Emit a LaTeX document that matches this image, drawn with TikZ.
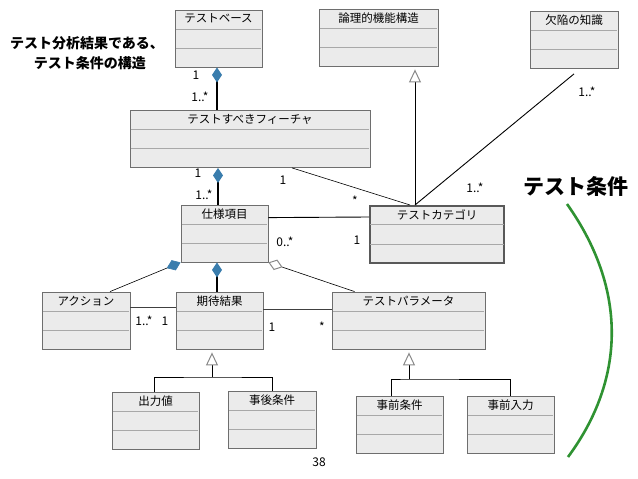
\documentclass[tikz,border=0pt]{standalone}
\usepackage{fontspec}
\setmainfont{Noto Sans CJK JP}
\usetikzlibrary{arrows.meta,calc}

\definecolor{boxfill}{HTML}{EBEBEB}
\definecolor{boxline}{HTML}{6E6E6E}
\definecolor{divline}{HTML}{A8A8A8}
\definecolor{diablue}{HTML}{3A7DAD}
\definecolor{trigray}{HTML}{8A8A8A}
\definecolor{arcgreen}{HTML}{2F9232}

\begin{document}
\begin{tikzpicture}[
    x=1pt, y=-1pt,
    cls/.style={draw=boxline, fill=boxfill, line width=0.8pt, inner xsep=2pt,
        inner ysep=0pt, text height=13pt, text depth=44pt, minimum height=57pt,
        font=\fontsize{11.5}{13}\selectfont},
    keycls/.style={cls, draw=black!65, line width=2pt},
    divider/.style={draw=divline, line width=0.6pt, shorten <=1pt, shorten >=1pt},
    comp/.style={line width=1.1pt, {Diamond[fill=diablue, color=diablue, length=15pt, width=10pt]}-},
    compthin/.style={line width=0.6pt, {Diamond[fill=diablue, color=diablue, length=15pt, width=11pt]}-},
    aggr/.style={line width=0.6pt, {Diamond[fill=white, color=trigray, length=15pt, width=11pt, line width=1pt]}-},
    gen/.style={line width=0.9pt, shorten >=3pt,
        -{Triangle[fill=white, color=trigray, length=13pt, width=12pt, line width=1pt]}},
    tree/.style={line width=0.9pt},
    assoc/.style={line width=0.6pt},
    link/.style={line width=1.2pt, draw=black!75},
    mult/.style={font=\fontsize{12}{14}\selectfont, inner sep=0pt},
    heading/.style={font=\bfseries\fontsize{14}{16}\selectfont, inner sep=0pt},
    bighead/.style={font=\bfseries\fontsize{21}{24}\selectfont, inner sep=0pt},
    bracket/.style={draw=arcgreen, line width=2.6pt}
]
\useasboundingbox (0,0) rectangle (638,479);

% -------------------------------------------------
% Заголовок слева
% -------------------------------------------------
\node[heading] (heading1) at (87,43) {テスト分析結果である、};
\node[heading] (heading2) at (90,63) {テスト条件の構造};

% -------------------------------------------------
% Классы верхнего ряда
% -------------------------------------------------
\node[cls, minimum width=87pt]  (base)    at (218.5,38.5) {テストベース};
\node[cls, minimum width=119pt] (logic)   at (378.5,37.5) {論理的機能構造};
\node[cls, minimum width=88pt]  (defect)  at (574,40)     {欠陥の知識};
\node[cls, minimum width=240pt] (feature) at (250,139)    {テストすべきフィーチャ};

% -------------------------------------------------
% Средний ряд
% -------------------------------------------------
\node[cls, minimum width=87pt]     (spec) at (224.5,233.5) {仕様項目};
\node[keycls, minimum width=134pt] (cat)  at (437,234.5)   {テストカテゴリ};

\node[cls, minimum width=88pt]  (action) at (86,320.5)    {アクション};
\node[cls, minimum width=87pt]  (expect) at (219.5,320.5) {期待結果};
\node[cls, minimum width=153pt] (param)  at (408.5,320.5) {テストパラメータ};

% -------------------------------------------------
% Нижний ряд
% -------------------------------------------------
\node[cls, minimum width=87pt] (output)   at (155.5,420.5) {出力値};
\node[cls, minimum width=88pt] (post)     at (272,419.5)   {事後条件};
\node[cls, minimum width=87pt] (pre)      at (399.5,424.5) {事前条件};
\node[cls, minimum width=87pt] (preinput) at (510.5,424.5) {事前入力};

% Разделители отделений
\foreach \n in {base,logic,defect,feature,spec,cat,action,expect,param,output,post,pre,preinput}{
  \draw[divider] ($(\n.north west)!1/3!(\n.south west)$) -- ($(\n.north east)!1/3!(\n.south east)$);
  \draw[divider] ($(\n.north west)!2/3!(\n.south west)$) -- ($(\n.north east)!2/3!(\n.south east)$);
}

% -------------------------------------------------
% Композиции
% -------------------------------------------------
\draw[comp] ([xshift=-1.5pt]base.south) -- ([xshift=-1.5pt]base.south |- feature.north);
\draw[comp] ([xshift=-6.5pt]spec.north |- feature.south) -- ([xshift=-6.5pt]spec.north);
\draw[comp] ([xshift=-2.5pt]expect.north |- spec.south) -- ([xshift=-2.5pt]expect.north);
\draw[compthin] (spec.south west) -- ([xshift=24pt]action.north);
\draw[aggr] (spec.south east) -- ([xshift=23pt]param.north west);

% -------------------------------------------------
% Ассоциации
% -------------------------------------------------
\draw[assoc] ([xshift=42pt]feature.south) -- ([xshift=-27pt]cat.north);
\draw[assoc, line width=0.9pt] ($(spec.north east)+(0,13)$) -- ($(cat.north west)+(0,12)$);
\draw[assoc, line width=0.9pt] ([yshift=-5pt]defect.south) -- ([xshift=-22pt]cat.north);
\draw[link] ($(action.north east)+(0,16)$) -- ($(expect.north west)+(0,16)$);
\draw[link] ($(expect.north east)+(0,18)$) -- ($(param.north west)+(0,18)$);

% -------------------------------------------------
% Обобщения
% -------------------------------------------------
\draw[gen] ([xshift=-22pt]cat.north) -- ([xshift=-22pt]cat.north |- logic.south);

\coordinate (joinA) at (212,377);
\draw[tree] ([xshift=-1.5pt]output.north) |- (joinA) -| (post.north);
\draw[gen] (joinA) -- (joinA |- expect.south);

\coordinate (joinB) at (409,379);
\draw[tree] ([xshift=-8.5pt]pre.north) |- (joinB) -| (preinput.north);
\draw[gen] (joinB) -- (joinB |- param.south);

% -------------------------------------------------
% Кратности
% -------------------------------------------------
\node[mult] (mBase)    at (196,75)  {1};
\node[mult] (mFeatA)   at (200,97)  {1..*};
\node[mult] (mFeatB)   at (198,173) {1};
\node[mult] (mSpec)    at (204,195) {1..*};
\node[mult] (mFeatC)   at (283,180) {1};
\node[mult] (mCatA)    at (355,201) {*};
\node[mult] (mCatB)    at (475,188) {1..*};
\node[mult] (mDefect)  at (587,92)  {1..*};
\node[mult] (mSpecB)   at (285,242) {0..*};
\node[mult] (mCatC)    at (357,240) {1};
\node[mult] (mAction)  at (144,321) {1..*};
\node[mult] (mExpA)    at (165,321) {1};
\node[mult] (mExpB)    at (272,327) {1};
\node[mult] (mParam)   at (322,327) {*};

% -------------------------------------------------
% Подпись справа и дуга
% -------------------------------------------------
\node[bighead] (condition) at (576,186) {テスト条件};
\coordinate (arcTop) at (567,204);
\coordinate (arcBot) at (568,457);
\draw[bracket] (arcTop) .. controls (628,290) and (625,380) .. (arcBot);

% Номер страницы
\node[mult] (pageno) at (319,462) {38};

\end{tikzpicture}
\end{document}
